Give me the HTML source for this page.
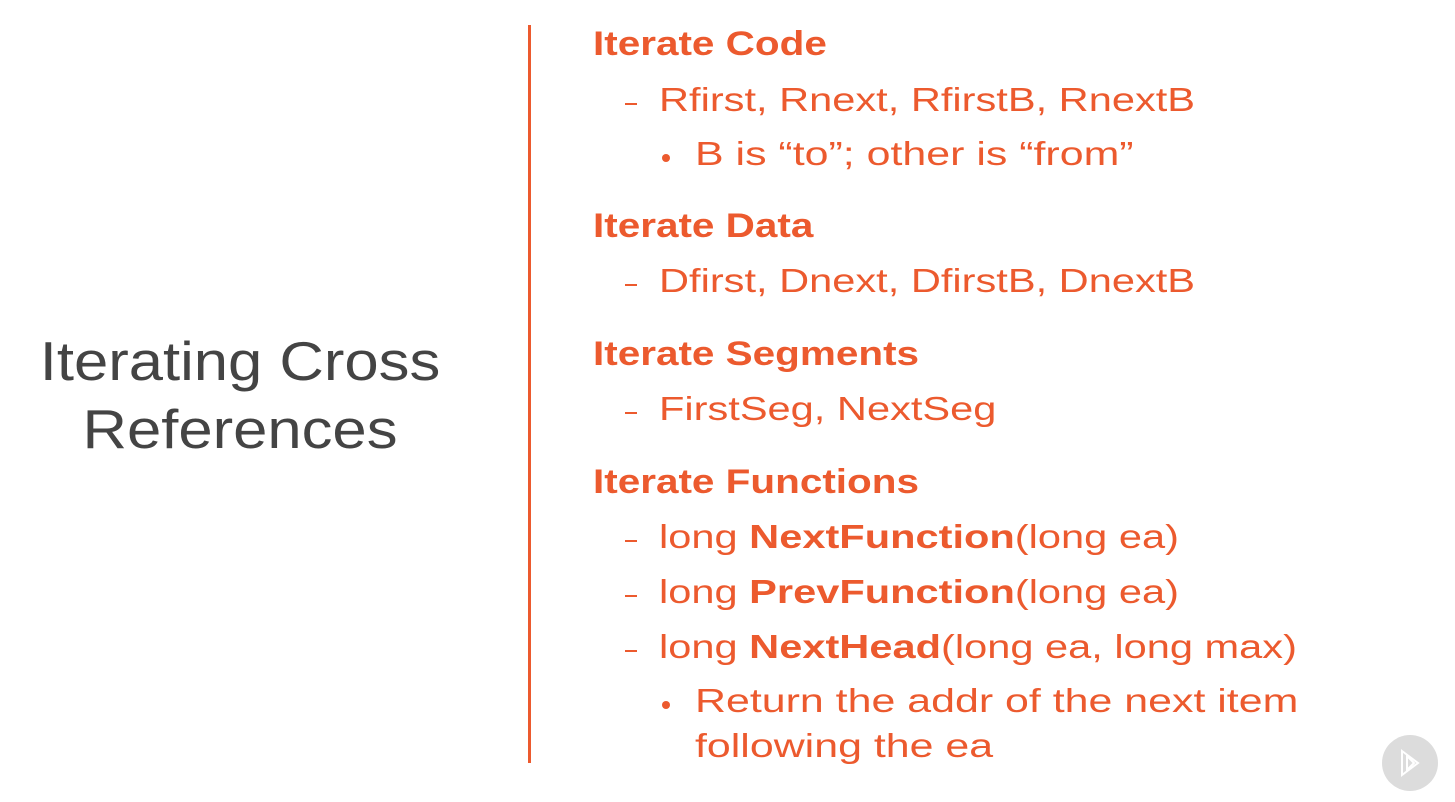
<!DOCTYPE html>
<html><head><meta charset="utf-8"><style>
body{margin:0;width:1455px;height:802px;background:#fff;position:relative;overflow:hidden;font-family:"Liberation Sans",sans-serif;}
.t{position:absolute;white-space:nowrap;color:#ec5a2e;line-height:1;transform-origin:0 0;}
.h{font-weight:bold;font-size:34px;left:593px;transform:scaleX(1.19);}
.s{font-size:33px;left:659px;transform:scaleX(1.26);}
.b{font-size:33px;left:695px;transform:scaleX(1.3);}
.s b{font-weight:bold;}
.d{position:absolute;left:625px;width:12px;height:2px;background:#ec5a2e;}
.dot{position:absolute;left:662px;width:8px;height:8px;border-radius:50%;background:#ec5a2e;}
.L{position:absolute;color:#444;font-size:55px;width:480px;left:0;text-align:center;line-height:1;transform:scaleX(1.12);transform-origin:240px 0;}
</style></head><body>
<div style="position:absolute;left:528px;top:25px;width:3px;height:738px;background:#ec5a2e"></div>
<div class="L" style="top:334px">Iterating Cross</div>
<div class="L" style="top:402px">References</div>

<div class="t h" style="top:27px">Iterate Code</div>
<div class="d" style="top:103px"></div><div class="t s" style="top:83px">Rfirst, Rnext, RfirstB, RnextB</div>
<div class="dot" style="top:154px"></div><div class="t b" style="top:137px">B is “to”; other is “from”</div>

<div class="t h" style="top:209px">Iterate Data</div>
<div class="d" style="top:284px"></div><div class="t s" style="top:264px">Dfirst, Dnext, DfirstB, DnextB</div>

<div class="t h" style="top:337px">Iterate Segments</div>
<div class="d" style="top:412px"></div><div class="t s" style="top:392px">FirstSeg, NextSeg</div>

<div class="t h" style="top:465px">Iterate Functions</div>
<div class="d" style="top:540px"></div><div class="t s" style="top:520px">long <b>NextFunction</b>(long ea)</div>
<div class="d" style="top:595px"></div><div class="t s" style="top:575px">long <b>PrevFunction</b>(long ea)</div>
<div class="d" style="top:650px"></div><div class="t s" style="top:630px">long <b>NextHead</b>(long ea, long max)</div>
<div class="dot" style="top:701px"></div><div class="t b" style="top:684px">Return the addr of the next item</div>
<div class="t b" style="top:729px">following the ea</div>

<div style="position:absolute;left:1382px;top:735px;width:56px;height:56px;border-radius:50%;background:#dcdcdc"></div>
<svg style="position:absolute;left:1382px;top:735px" width="56" height="56"><path d="M20 16 L36 28 L20 40 Z" fill="none" stroke="#fff" stroke-width="2"/><path d="M25 21 L25 35 L32 28 Z" fill="none" stroke="#fff" stroke-width="2"/></svg>
</body></html>
